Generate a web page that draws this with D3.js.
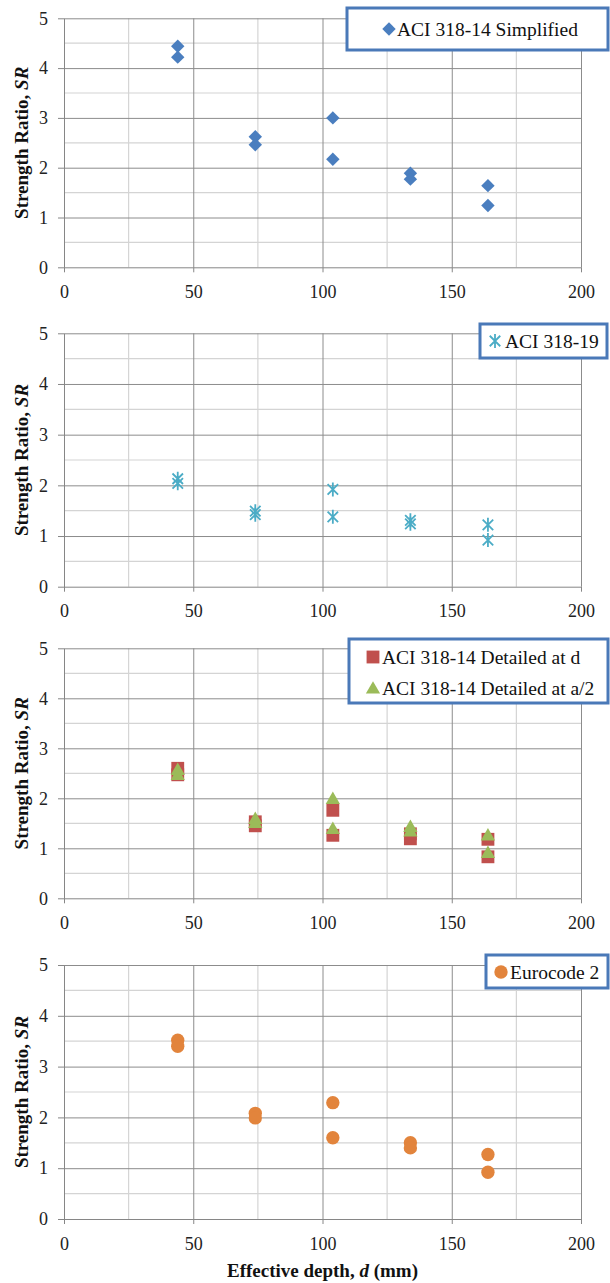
<!DOCTYPE html>
<html>
<head>
<meta charset="utf-8">
<script src="https://cdn.jsdelivr.net/npm/d3@7"></script>
<style>
  body { margin: 0; background: #fff; }
  svg { display: block; }
  svg text { font-family: "Liberation Serif", "Times New Roman", Times, serif; }
</style>
</head>
<body>
<svg id="chart" width="610" height="1283"></svg>
<script>
// effective depth d (mm), two specimens per depth
const depths = [44, 44, 74, 74, 104, 104, 134, 134, 164, 164];
const srSimplified = [4.44, 4.22, 2.62, 2.46, 3.0, 2.17, 1.89, 1.77, 1.64, 1.24];
const sr319 = [2.13, 2.04, 1.49, 1.42, 1.92, 1.38, 1.31, 1.24, 1.22, 0.92];
const srDetailedD = [2.6, 2.47, 1.53, 1.45, 1.76, 1.26, 1.29, 1.19, 1.18, 0.83];
const srDetailedA2 = [2.58, 2.48, 1.6, 1.52, 2.0, 1.4, 1.44, 1.35, 1.27, 0.92];
const srEurocode = [3.52, 3.4, 2.08, 1.99, 2.29, 1.6, 1.5, 1.4, 1.27, 0.92];

const xTicks = [0, 50, 100, 150, 200];
const yTicks = [0, 1, 2, 3, 4, 5];
const xMinor = [25, 75, 125, 175];
const yMinor = [0.5, 1.5, 2.5, 3.5, 4.5];

const svg = d3.select('#chart');
const left = 64, right = 581;
const x = d3.scaleLinear().domain([0, 200]).range([left, right]);

const starPath = r => {
  const a = r * 0.75;
  return `M${-a},${-a}L${a},${a}M${-a},${a}L${a},${-a}M0,${-r}L0,${r}`;
};

const markers = {
  diamond: g => g.append('path')
    .attr('d', d3.symbol(d3.symbolSquare, 90)())
    .attr('transform', 'rotate(45)')
    .attr('fill', '#4a7ebf'),
  star: g => g.append('path')
    .attr('d', starPath(7))
    .attr('fill', 'none')
    .attr('stroke', '#4bacc6')
    .attr('stroke-width', 1.8),
  square: g => g.append('path')
    .attr('d', d3.symbol(d3.symbolSquare, 165)())
    .attr('fill', '#c0504d'),
  triangle: g => g.append('path')
    .attr('d', d3.symbol(d3.symbolTriangle, 88)())
    .attr('transform', 'translate(0,1.5)')
    .attr('fill', '#9bbb59'),
  circle: g => g.append('path')
    .attr('d', d3.symbol(d3.symbolCircle, 140)())
    .attr('fill', '#e2843c')
};

const panels = [
  {
    top: 18.3, bottom: 267.3,
    series: [{ name: 'ACI 318-14 Simplified', values: srSimplified, marker: 'diamond' }],
    legend: { x0: 347, y0: 8, x1: 608, y1: 50, mx: 389, tx: 397, rows: [29] }
  },
  {
    top: 333.3, bottom: 586.7,
    series: [{ name: 'ACI 318-19', values: sr319, marker: 'star' }],
    legend: { x0: 480, y0: 324, x1: 607, y1: 358, mx: 495, tx: 505, rows: [341] }
  },
  {
    top: 648.3, bottom: 898.3,
    series: [
      { name: 'ACI 318-14 Detailed at d', values: srDetailedD, marker: 'square' },
      { name: 'ACI 318-14 Detailed at a/2', values: srDetailedA2, marker: 'triangle' }
    ],
    legend: { x0: 349, y0: 639, x1: 608, y1: 703, mx: 373, tx: 382, rows: [657, 688] }
  },
  {
    top: 965, bottom: 1219,
    series: [{ name: 'Eurocode 2', values: srEurocode, marker: 'circle' }],
    legend: { x0: 486, y0: 955, x1: 608, y1: 988, mx: 501, tx: 510, rows: [972] }
  }
];

const tickText = a => a.selectAll('text')
  .attr('font-size', 18)
  .attr('fill', '#222');

panels.forEach(p => {
  const y = d3.scaleLinear().domain([0, 5]).range([p.bottom, p.top]);
  const g = svg.append('g');

  // minor gridlines
  g.selectAll('.xminor').data(xMinor).join('line')
    .attr('x1', d => x(d)).attr('x2', d => x(d))
    .attr('y1', p.top).attr('y2', p.bottom)
    .attr('stroke', '#d4d4d4').attr('stroke-width', 1.2);
  g.selectAll('.yminor').data(yMinor).join('line')
    .attr('x1', left).attr('x2', right)
    .attr('y1', d => y(d)).attr('y2', d => y(d))
    .attr('stroke', '#d4d4d4').attr('stroke-width', 1.2);

  // major gridlines
  g.append('g')
    .attr('transform', `translate(0,${p.bottom})`)
    .call(d3.axisBottom(x).tickValues(xTicks.slice(1)).tickSize(-(p.bottom - p.top)).tickFormat(''))
    .call(a => a.select('.domain').remove())
    .call(a => a.selectAll('line').attr('stroke', '#8c8c8c'));
  g.append('g')
    .attr('transform', `translate(${left},0)`)
    .call(d3.axisLeft(y).tickValues(yTicks.slice(1)).tickSize(-(right - left)).tickFormat(''))
    .call(a => a.select('.domain').remove())
    .call(a => a.selectAll('line').attr('stroke', '#8c8c8c'));

  // axes
  g.append('g')
    .attr('transform', `translate(0,${p.bottom})`)
    .call(d3.axisBottom(x).tickValues(xTicks).tickFormat(d3.format('d'))
      .tickSize(5).tickPadding(13).tickSizeOuter(0))
    .call(a => a.select('.domain').attr('stroke', '#868686'))
    .call(a => a.selectAll('line').attr('stroke', '#868686'))
    .call(tickText);
  g.append('g')
    .attr('transform', `translate(${left},0)`)
    .call(d3.axisLeft(y).tickValues(yTicks).tickFormat(d3.format('d'))
      .tickSize(6).tickPadding(10).tickSizeOuter(0))
    .call(a => a.select('.domain').attr('stroke', '#868686'))
    .call(a => a.selectAll('line').attr('stroke', '#868686'))
    .call(tickText);

  // y title
  const yt = g.append('text')
    .attr('transform', `translate(28,${(p.top + p.bottom) / 2}) rotate(-90)`)
    .attr('text-anchor', 'middle')
    .attr('font-size', 19)
    .attr('font-weight', 'bold')
    .attr('fill', '#111');
  yt.append('tspan').text('Strength Ratio, ');
  yt.append('tspan').attr('font-style', 'italic').text('SR');

  // points
  p.series.forEach(s => {
    g.append('g').selectAll('g').data(s.values).join('g')
      .attr('transform', (d, i) => `translate(${x(depths[i])},${y(d)})`)
      .each(function () { markers[s.marker](d3.select(this)); });
  });

  // legend
  const L = p.legend;
  g.append('rect')
    .attr('x', L.x0).attr('y', L.y0)
    .attr('width', L.x1 - L.x0).attr('height', L.y1 - L.y0)
    .attr('fill', '#fff').attr('stroke', '#4a79b8').attr('stroke-width', 3);
  p.series.forEach((s, i) => {
    const row = g.append('g').attr('transform', `translate(${L.mx},${L.rows[i]})`);
    markers[s.marker](row);
    g.append('text')
      .attr('x', L.tx).attr('y', L.rows[i] + 6.5)
      .attr('font-size', 19.5)
      .attr('fill', '#111')
      .text(s.name);
  });
});

// x title
const xt = svg.append('text')
  .attr('x', (left + right) / 2).attr('y', 1277)
  .attr('text-anchor', 'middle')
  .attr('font-size', 19)
  .attr('font-weight', 'bold')
  .attr('fill', '#111');
xt.append('tspan').text('Effective depth, ');
xt.append('tspan').attr('font-style', 'italic').text('d');
xt.append('tspan').text(' (mm)');
</script>
</body>
</html>
